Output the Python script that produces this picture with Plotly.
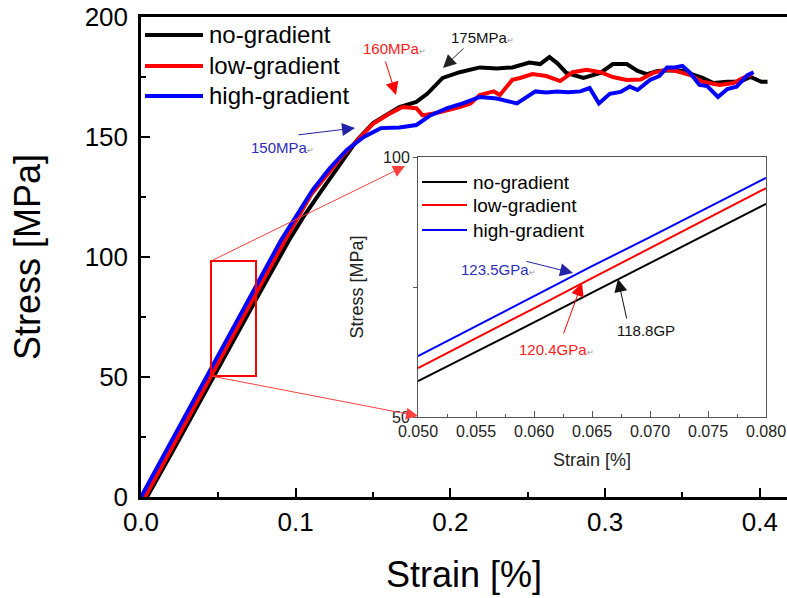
import plotly.graph_objects as go

# ---------------- data ----------------
series_names = ["no-gradient", "low-gradient", "high-gradient"]
series_colors = ["#000000", "#ff0000", "#0000ff"]

strain_no = [0, 0.0039, 0.02, 0.047, 0.0737, 0.0957, 0.105, 0.117, 0.129, 0.140,
             0.150, 0.160, 0.167, 0.178, 0.185, 0.195, 0.206, 0.219, 0.230, 0.240,
             0.251, 0.258, 0.264, 0.269, 0.275, 0.286, 0.297, 0.305, 0.314, 0.321,
             0.327, 0.334, 0.342, 0.350, 0.357, 0.363, 0.370, 0.379, 0.387, 0.394,
             0.401, 0.405]
stress_no = [0, 0, 18.5, 50.5, 81.5, 107, 116.7, 128, 139.2, 149,
             155.8, 160, 162.5, 164.6, 168, 174.6, 177, 179, 178.5, 179,
             181, 180.4, 183.3, 180.8, 176.7, 174.6, 176.7, 180.4, 180.4, 177.5,
             176.2, 177.5, 177.8, 177.5, 176, 174.6, 172.5, 173, 173, 175,
             173, 173]

strain_low = [0, 0.0026, 0.02, 0.046, 0.093, 0.11, 0.13, 0.150, 0.160, 0.169,
              0.178, 0.182, 0.191, 0.206, 0.213, 0.219, 0.228, 0.232, 0.240, 0.245,
              0.253, 0.262, 0.271, 0.279, 0.288, 0.297, 0.305, 0.314, 0.323, 0.331,
              0.340, 0.346, 0.355, 0.363, 0.374, 0.383, 0.389, 0.395]
stress_low = [0, 0, 20.5, 51.5, 107, 126, 142, 155.5, 159.5, 162.5,
              162, 159, 160, 162.5, 164, 167.5, 169, 167.5, 173.8, 174.6,
              176.2, 175.4, 173.3, 177, 178, 177, 175, 173.8, 174, 176.7,
              178, 177.5, 175.8, 173, 171.7, 172.5, 174.6, 176.2]

strain_high = [0, 0.02, 0.045, 0.0905, 0.111, 0.122, 0.133, 0.144, 0.155, 0.167,
               0.178, 0.187, 0.198, 0.208, 0.219, 0.230, 0.243, 0.249, 0.255, 0.262,
               0.269, 0.276, 0.284, 0.290, 0.296, 0.303, 0.310, 0.316, 0.321, 0.329,
               0.335, 0.340, 0.345, 0.350, 0.355, 0.361, 0.366, 0.373, 0.379, 0.385,
               0.392, 0.396]
stress_high = [0, 23.5, 53, 107, 128, 137, 144.6, 150, 153.7, 154,
               155, 159, 162, 164, 166.7, 166, 164, 166.7, 169, 168.5,
               169, 168.6, 169, 170.4, 164, 168, 168.8, 171, 169.6, 173.8,
               175.4, 179, 179, 179.6, 176.7, 171.7, 171.2, 166.7, 170, 171,
               175.8, 177]

inset_strain = [0.050, 0.055, 0.060, 0.065, 0.070, 0.075, 0.080]
inset_no = [56.9, 62.5, 68.2, 73.9, 79.6, 85.3, 91.0]
inset_low = [59.4, 65.1, 70.9, 76.7, 82.5, 88.2, 94.0]
inset_high = [61.7, 67.5, 73.3, 79.0, 84.6, 90.3, 96.0]

main_x_ticks = [0.0, 0.1, 0.2, 0.3, 0.4]
main_y_ticks = [0, 50, 100, 150, 200]
inset_x_ticks = [0.050, 0.055, 0.060, 0.065, 0.070, 0.075, 0.080]
inset_y_ticks = [50, 75, 100]
inset_y_text = ["50", "", "100"]

# ---------------- layout geometry ----------------
# page body margin is removed (see post_script), so the figure fills the window
OFF = 0
W, H = 787, 598
L, R, T, B = 141, 0, 17, 101
PW, PH = W - L - R, H - T - B
FONT = "Liberation Sans, Arial, sans-serif"


def px(x):
    # window pixel -> paper fraction
    return (x - OFF - L) / PW


def py(y):
    return (H - B - (y - OFF)) / PH


fig = go.Figure()

main_series = [(strain_no, stress_no), (strain_low, stress_low), (strain_high, stress_high)]
for (sx, sy), name, col in zip(main_series, series_names, series_colors):
    fig.add_trace(go.Scatter(x=sx, y=sy, mode="lines", name=name, showlegend=False,
                             line=dict(color=col, width=4), xaxis="x", yaxis="y"))

inset_series = [inset_no, inset_low, inset_high]
for sy, name, col in zip(inset_series, series_names, series_colors):
    fig.add_trace(go.Scatter(x=inset_strain, y=sy, mode="lines", name=name, showlegend=False,
                             line=dict(color=col, width=2), xaxis="x2", yaxis="y2"))

shapes = []
annotations = []

# legends (main and inset)
for i, (name, col) in enumerate(zip(series_names, series_colors)):
    yy = [35, 66, 96][i]
    shapes.append(dict(type="line", xref="paper", yref="paper", x0=px(145), x1=px(203),
                       y0=py(yy), y1=py(yy), line=dict(color=col, width=4)))
    annotations.append(dict(text=name, xref="paper", yref="paper", x=px(207), y=py(yy),
                            xanchor="left", yanchor="middle", showarrow=False,
                            font=dict(family=FONT, size=24, color="black")))
    yy2 = [182, 205, 230][i]
    shapes.append(dict(type="line", xref="paper", yref="paper", x0=px(422), x1=px(467),
                       y0=py(yy2), y1=py(yy2), line=dict(color=col, width=2)))
    annotations.append(dict(text=name, xref="paper", yref="paper", x=px(471), y=py(yy2),
                            xanchor="left", yanchor="middle", showarrow=False,
                            font=dict(family=FONT, size=19, color="black")))

# zoom rectangle
shapes.append(dict(type="rect", xref="paper", yref="paper", x0=px(211), x1=px(256),
                   y0=py(376), y1=py(261), line=dict(color="#ff0000", width=2)))

MARK = "<span style='font-size:8px;color:#999999'>↵</span>"


def label(text, x, y, col, size=15):
    annotations.append(dict(text=text, xref="paper", yref="paper", x=px(x), y=py(y),
                            xanchor="left", yanchor="middle", showarrow=False,
                            font=dict(family=FONT, size=size, color=col)))


def arrow(x0, y0, x1, y1, col, size=2.6):
    annotations.append(dict(text="", xref="paper", yref="paper", x=px(x1), y=py(y1),
                            ax=x0 - x1, ay=y0 - y1, axref="pixel", ayref="pixel",
                            showarrow=True, arrowhead=2, arrowsize=size, arrowwidth=1,
                            arrowcolor=col))


label("175MPa" + MARK, 449, 38, "#111111")
arrow(465, 47, 443, 68, "#222222")
label("160MPa" + MARK, 361, 49, "#ff2020")
arrow(385, 60, 396, 95, "#ff0000")
label("150MPa" + MARK, 249, 147, "#2e2eb8")
arrow(297, 135, 355, 128, "#2323a8")

label("123.5GPa" + MARK, 459, 269, "#2e2eb8")
arrow(525, 261, 573, 273, "#2323a8")
label("120.4GPa" + MARK, 517, 349, "#ff2020")
arrow(563, 335, 582, 283, "#ff0000")
label("118.8GP", 615, 330, "#111111")
arrow(627, 320, 618, 279, "#111111")

# connector lines from rectangle to inset
arrow(211, 261, 405, 166, "#ff4040", 2.4)
arrow(211, 376, 418, 416, "#ff4040", 2.4)

axis_font = dict(family=FONT, size=26, color="black")

fig.update_layout(
    width=W, height=H,
    margin=dict(l=L, r=R, t=T, b=B),
    paper_bgcolor="white", plot_bgcolor="white",
    showlegend=False,
    shapes=shapes, annotations=annotations,
    xaxis=dict(domain=[0, 1], range=[0, PW / 1547], tickvals=main_x_ticks,
               tickformat=".1f", ticks="inside", ticklen=9, tickwidth=2, tickcolor="black",
               minor=dict(dtick=0.05, ticks="inside", ticklen=5, tickwidth=2, tickcolor="black"),
               showline=True, linecolor="black", linewidth=2.5, mirror=True,
               showgrid=False, zeroline=False, tickfont=axis_font, ticklabeloverflow="allow",
               title=dict(text="Strain [%]", font=dict(family=FONT, size=36, color="black"),
                          standoff=26),
               automargin=False),
    yaxis=dict(domain=[0, 1], range=[0, 200], tickvals=main_y_ticks,
               ticks="inside", ticklen=9, tickwidth=2, tickcolor="black",
               minor=dict(dtick=25, ticks="inside", ticklen=5, tickwidth=2, tickcolor="black"),
               showline=True, linecolor="black", linewidth=2.5, mirror=False,
               showgrid=False, zeroline=False, tickfont=axis_font, ticklabelstandoff=5,
               ticklabeloverflow="allow",
               title=dict(text="Stress [MPa]", font=dict(family=FONT, size=36, color="black"),
                          standoff=34),
               automargin=False),
    xaxis2=dict(domain=[px(418), px(766)], anchor="y2", range=[0.05, 0.08],
                tickvals=inset_x_ticks, tickformat=".3f", ticks="inside", ticklen=6,
                tickcolor="#555555", ticklabeloverflow="allow",
                minor=dict(dtick=0.0025, ticks="inside", ticklen=3, tickcolor="#555555"),
                showline=True, linecolor="#555555", linewidth=1, mirror=True,
                showgrid=False, zeroline=False,
                tickfont=dict(family=FONT, size=16, color="#222222"),
                title=dict(text="Strain [%]", font=dict(family=FONT, size=18, color="#222222"),
                           standoff=14),
                automargin=False),
    yaxis2=dict(domain=[py(417), py(157)], anchor="x2", range=[50, 100],
                tickvals=inset_y_ticks, ticktext=inset_y_text, ticks="outside", ticklen=4,
                tickcolor="#555555", ticklabeloverflow="allow",
                showline=True, linecolor="#555555", linewidth=1, mirror=True,
                showgrid=False, zeroline=False,
                tickfont=dict(family=FONT, size=16, color="#222222"),
                title=dict(text="Stress [MPa]", font=dict(family=FONT, size=18, color="#222222"),
                           standoff=14),
                automargin=False),
)

fig.write_html(
    "out.html",
    config={"displayModeBar": False},
    post_script="document.body.style.margin='0px';document.body.style.overflow='hidden';",
)
